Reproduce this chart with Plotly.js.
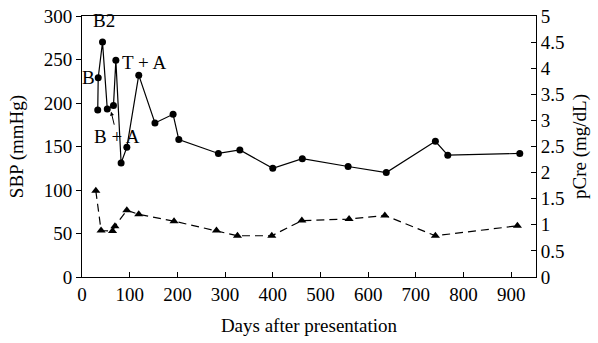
<!DOCTYPE html>
<html><head><meta charset="utf-8">
<script src="https://cdn.plot.ly/plotly-3.0.1.min.js"></script>
<style>html,body{margin:0;padding:0;background:#fff}#c{width:598px;height:343px}</style>
</head><body><div id="c"></div>
<script>
const sbpDays = [33, 34, 43, 53, 66, 71, 82, 94, 119, 153, 191, 203, 286, 331, 400, 462, 558, 638, 741, 767, 918];
const sbpVals = [192, 229, 270, 193, 197, 249, 131, 149, 232, 177, 187, 158, 142, 146, 125, 136, 127, 120, 156, 140, 142];
const creDays = [29, 40, 64, 69, 94, 119, 193, 282, 326, 398, 461, 560, 635, 741, 913];
const creVals = [1.65, 0.89, 0.88, 0.97, 1.28, 1.2, 1.07, 0.89, 0.79, 0.79, 1.08, 1.11, 1.18, 0.79, 0.98];
const xTicks = [0,100,200,300,400,500,600,700,800,900];
const yTicks = [0,50,100,150,200,250,300];
const y2Ticks = [0,0.5,1,1.5,2,2.5,3,3.5,4,4.5,5];
const y2Labels = ['0','0.5','1','1.5','2','2.5','3','3.5','4','4.5','5'];

const F = {family:'"Liberation Serif", "DejaVu Serif", serif', size:19, color:'#000'};
const traces = [
 {x:sbpDays, y:sbpVals, type:'scatter', mode:'lines+markers', line:{color:'#000', width:1.2},
  marker:{symbol:'circle', size:7, color:'#000'}, yaxis:'y', hoverinfo:'skip'},
 {x:creDays, y:creVals, type:'scatter', mode:'lines+markers', line:{color:'#000', width:1.2, dash:'8px,5px'},
  marker:{symbol:'triangle-up', size:8, color:'#000'}, yaxis:'y2', hoverinfo:'skip'}
];
const layout = {
 width:598, height:343, margin:{l:82, r:62, t:16, b:66},
 paper_bgcolor:'#fff', plot_bgcolor:'#fff', showlegend:false, font:F,
 xaxis:{range:[0,952], tickvals:xTicks, ticks:'inside', ticklen:5, tickcolor:'#000',
   showline:true, linecolor:'#000', linewidth:1, mirror:true, showgrid:false, zeroline:false,
   tickfont:F, title:{text:'Days after presentation', font:F, standoff:14}},
 yaxis:{range:[0,300], tickvals:yTicks, ticks:'outside', ticklen:5, tickcolor:'#000',
   showline:true, linecolor:'#000', linewidth:1, showgrid:false, zeroline:false,
   tickfont:F, title:{text:'SBP (mmHg)', font:F, standoff:15}},
 yaxis2:{range:[0,5], overlaying:'y', side:'right', tickvals:y2Ticks, ticktext:y2Labels,
   ticks:'inside', ticklen:5, tickcolor:'#000', showline:true, linecolor:'#000', linewidth:1,
   showgrid:false, zeroline:false, tickfont:F, title:{text:'pCre (mg/dL)', font:F, standoff:9}},
 annotations:[
  {x:46, y:283, xref:'x', yref:'y', text:'B2', showarrow:false, font:F, xanchor:'center', yanchor:'bottom', yshift:-2},
  {x:32, y:229, xref:'x', yref:'y', text:'B', showarrow:false, font:F, xanchor:'right', yanchor:'middle'},
  {x:79, y:247, xref:'x', yref:'y', text:'T + A', showarrow:false, font:F, xanchor:'left', yanchor:'middle'},
  {x:61, y:190, xref:'x', yref:'y', text:'B + A', showarrow:true, arrowhead:2, arrowsize:0.8, arrowwidth:1,
   arrowcolor:'#000', ax:6, ay:25, font:F, xanchor:'center', yanchor:'middle'}
 ]
};
Plotly.newPlot('c', traces, layout, {staticPlot:true});
</script></body></html>
